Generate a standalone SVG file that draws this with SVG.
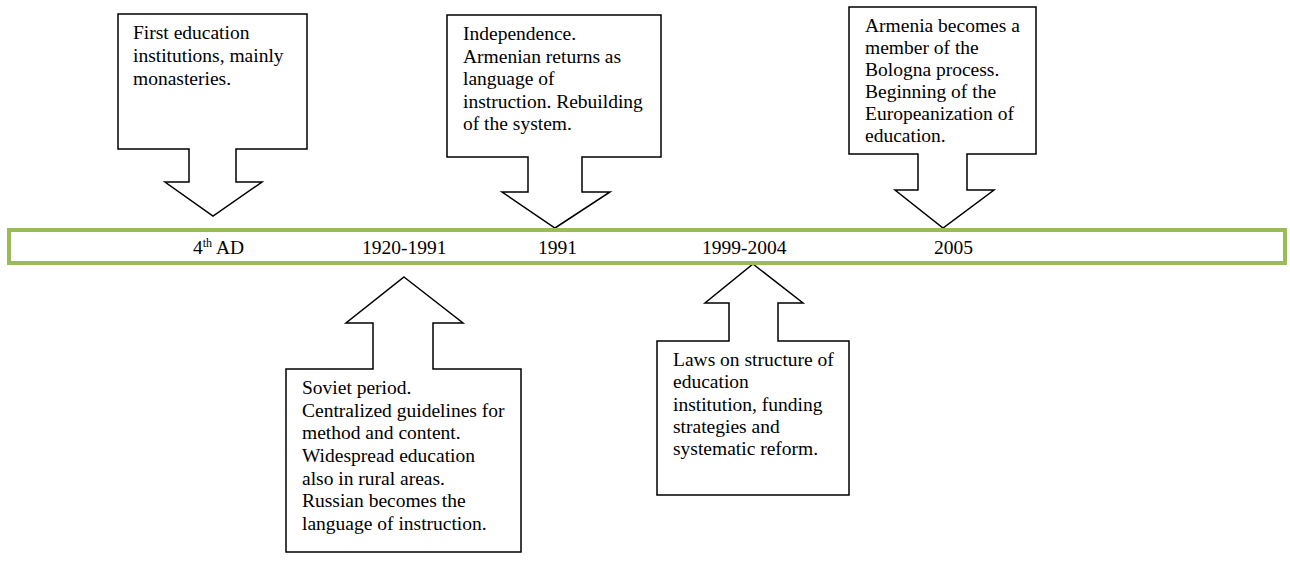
<svg xmlns="http://www.w3.org/2000/svg" width="1290" height="565" viewBox="0 0 1290 565">
<style>
.callout{fill:#fff;stroke:#000;stroke-width:1.5;stroke-linejoin:miter}
.bar{fill:#fff;stroke:#9BBB59;stroke-width:4}
text{font-family:"Liberation Serif","Times New Roman",serif;font-size:19.5px;fill:#000}
.sup{font-size:12px}
</style>
<rect width="1290" height="565" fill="#fff"/>
<g id="connectors"></g>
<g id="callout-4thAD">
<path class="callout" d="M118,14 H307 V149 H236 V182 H262 L213,216 L165,182 H189 V149 H118 Z"/>
<text x="133" y="39">First education</text>
<text x="133" y="62">institutions, mainly</text>
<text x="133" y="85">monasteries.</text>
</g>
<g id="callout-1991">
<path class="callout" d="M447,15 H661 V157 H582 V192 H610 L555,228 L502,192 H528 V157 H447 Z"/>
<text x="463" y="40">Independence.</text>
<text x="463" y="62.5">Armenian returns as</text>
<text x="463" y="85">language of</text>
<text x="463" y="107.5">instruction. Rebuilding</text>
<text x="463" y="130">of the system.</text>
</g>
<g id="callout-2005">
<path class="callout" d="M849,7 H1036 V154 H967 V190 H994 L943,228 L895,190 H918 V154 H849 Z"/>
<text x="865" y="32">Armenia becomes a</text>
<text x="865" y="54">member of the</text>
<text x="865" y="76">Bologna process.</text>
<text x="865" y="98">Beginning of the</text>
<text x="865" y="120">Europeanization of</text>
<text x="865" y="142">education.</text>
</g>
<g id="callout-1920-1991">
<path class="callout" d="M404,277 L463,323 H433 V369 H521 V552 H286 V369 H373 V323 H346 Z"/>
<text x="302" y="394">Soviet period.</text>
<text x="302" y="416.7">Centralized guidelines for</text>
<text x="302" y="439.4">method and content.</text>
<text x="302" y="462">Widespread education</text>
<text x="302" y="484.7">also in rural areas.</text>
<text x="302" y="507.4">Russian becomes the</text>
<text x="302" y="530">language of instruction.</text>
</g>
<g id="callout-1999-2004">
<path class="callout" d="M753,264 L803,303 H778 V341 H849 V495 H657 V341 H729 V303 H705 Z"/>
<text x="673" y="366">Laws on structure of</text>
<text x="673" y="388.3">education</text>
<text x="673" y="410.6">institution, funding</text>
<text x="673" y="432.9">strategies and</text>
<text x="673" y="455">systematic reform.</text>
</g>
<g id="timeline">
<rect class="bar" x="9" y="230" width="1276" height="33"/>
<text x="193" y="254">4<tspan class="sup" dy="-7">th</tspan><tspan dy="7"> AD</tspan></text>
<text x="362" y="254">1920-1991</text>
<text x="538" y="254">1991</text>
<text x="702" y="254">1999-2004</text>
<text x="934" y="254">2005</text>
</g>
</svg>
